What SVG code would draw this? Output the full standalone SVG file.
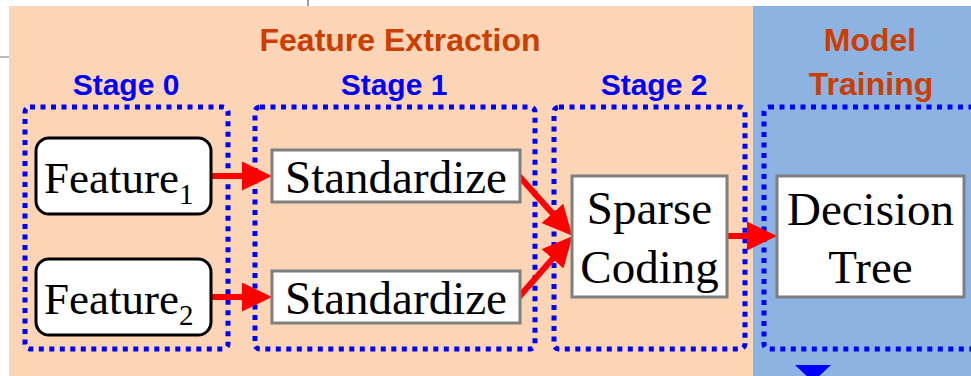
<svg xmlns="http://www.w3.org/2000/svg" width="971" height="376" viewBox="0 0 971 376">
  <style>
    .title { font-family: "Liberation Sans", Arial, sans-serif; font-weight: bold; font-size: 32px; fill: #CC3D00; text-anchor: middle; }
    .stage { font-family: "Liberation Sans", Arial, sans-serif; font-weight: bold; font-size: 30px; fill: #0000FF; text-anchor: middle; }
    .label { font-family: "Liberation Serif", "Times New Roman", serif; font-size: 47px; fill: #000000; text-anchor: middle; }
    .feat { font-family: "Liberation Serif", "Times New Roman", serif; font-size: 45px; fill: #000000; }
    .group { fill: none; stroke: #0000FF; stroke-width: 5; stroke-dasharray: 5 5.5; }
    .input { fill: #FFFFFF; stroke: #000000; stroke-width: 3; }
    .step { fill: #FFFFFF; stroke: #7F7F7F; stroke-width: 3; }
    .flow { fill: none; stroke: #FF0000; stroke-width: 6; marker-end: url(#head); }
  </style>
  <defs>
    <marker id="head" markerUnits="userSpaceOnUse" markerWidth="32" markerHeight="30" refX="2" refY="14.5" orient="auto">
      <path d="M0,0 L30,14.5 L0,29 Z" fill="#FF0000"/>
    </marker>
  </defs>

  <!-- background panels -->
  <rect x="0" y="0" width="971" height="376" fill="#FFFFFF"/>
  <line x1="0" y1="57" x2="9" y2="57" stroke="#A6A6A6" stroke-width="1.5"/>
  <line x1="308" y1="0" x2="308" y2="6" stroke="#7F7F7F" stroke-width="1.5"/>
  <rect x="9" y="6" width="744" height="370" fill="#FBD5B5"/>
  <rect x="753" y="6" width="218" height="370" fill="#8DB3E2"/>

  <!-- headings -->
  <text class="title" x="400" y="51">Feature Extraction</text>
  <text class="title" x="870" y="51">Model</text>
  <text class="title" x="871" y="95">Training</text>
  <text class="stage" x="126" y="95">Stage 0</text>
  <text class="stage" x="394" y="95">Stage 1</text>
  <text class="stage" x="654" y="95">Stage 2</text>

  <!-- stage groups -->
  <g id="stage0">
    <rect class="group" x="25" y="107" width="203" height="242" rx="5"/>
  </g>
  <g id="stage1">
    <rect class="group" x="255" y="107" width="280" height="242" rx="5"/>
  </g>
  <g id="stage2">
    <rect class="group" x="554" y="107" width="191" height="242" rx="5"/>
  </g>
  <g id="training">
    <rect class="group" x="764" y="107" width="220" height="242" rx="5"/>
  </g>

  <!-- connectors -->
  <g id="connectors">
    <line class="flow" x1="211" y1="176" x2="244" y2="176"/>
    <line class="flow" x1="211" y1="297" x2="244" y2="297"/>
    <line class="flow" x1="519" y1="176" x2="553.7" y2="214.8"/>
    <line class="flow" x1="519" y1="297" x2="553.9" y2="257.3"/>
    <line class="flow" x1="727" y1="236" x2="749" y2="236"/>
  </g>

  <!-- nodes -->
  <g id="feature1">
    <rect class="input" x="36" y="138" width="175" height="76" rx="13"/>
    <text class="feat" x="44" y="193">Feature<tspan font-size="29" dy="11">1</tspan></text>
  </g>
  <g id="feature2">
    <rect class="input" x="36" y="259" width="175" height="76" rx="13"/>
    <text class="feat" x="44" y="314">Feature<tspan font-size="29" dy="11">2</tspan></text>
  </g>
  <g id="standardize1">
    <rect class="step" x="272" y="150" width="248" height="52"/>
    <text class="label" x="396" y="193">Standardize</text>
  </g>
  <g id="standardize2">
    <rect class="step" x="272" y="271" width="248" height="52"/>
    <text class="label" x="396" y="314">Standardize</text>
  </g>
  <g id="sparse-coding">
    <rect class="step" x="572" y="176" width="155" height="121"/>
    <text class="label" x="649.5" y="224">Sparse</text>
    <text class="label" x="649.5" y="283">Coding</text>
  </g>
  <g id="decision-tree">
    <rect class="step" x="777" y="176" width="187" height="121"/>
    <text class="label" x="870.5" y="225">Decision</text>
    <text class="label" x="870.5" y="283">Tree</text>
  </g>

  <!-- outgoing pointer below the training group -->
  <polygon points="795,365 831,365 813,382" fill="#0000FF"/>
</svg>
